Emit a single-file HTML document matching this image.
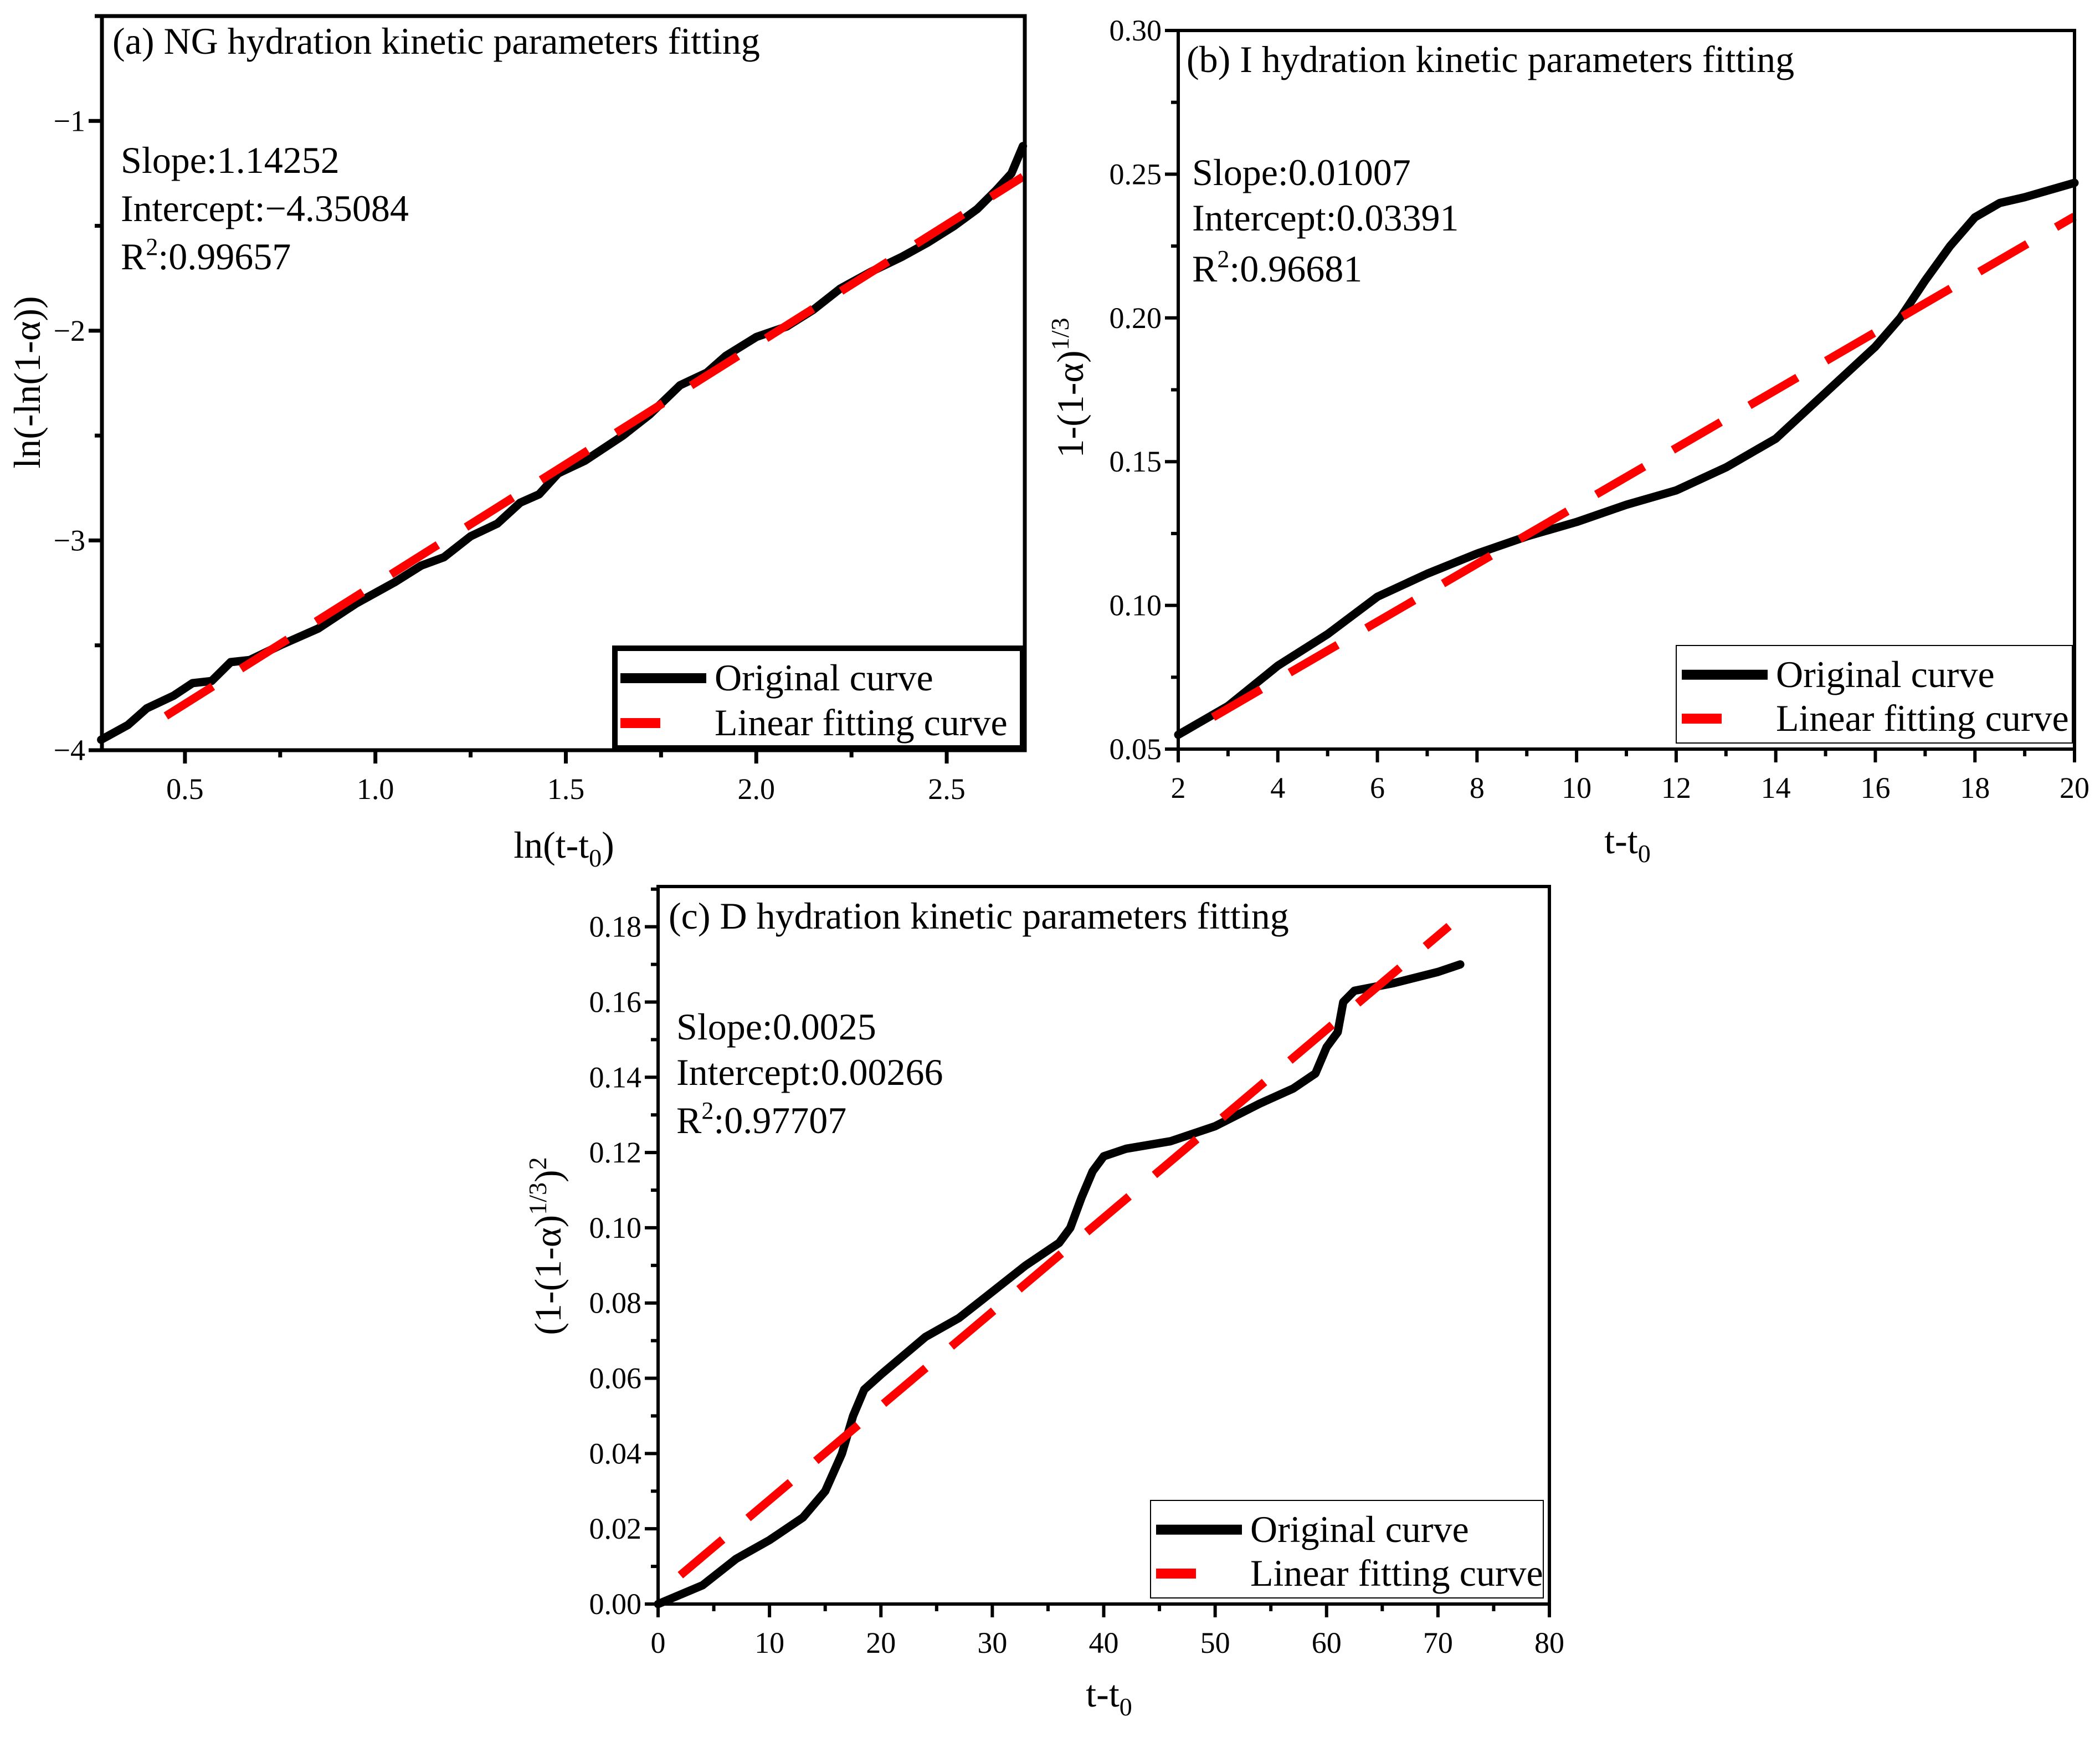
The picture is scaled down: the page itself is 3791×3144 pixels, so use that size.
<!DOCTYPE html>
<html><head><meta charset="utf-8"><style>
html,body{margin:0;padding:0;background:#fff}
svg text{font-family:"Liberation Serif",serif;fill:#000}
</style></head><body>
<svg id="fig" xmlns="http://www.w3.org/2000/svg" width="3791" height="3139" viewBox="0 0 3791 3139"></svg>
<script>
// Panel (a)
const aX = [0.28,0.35,0.40,0.47,0.52,0.57,0.62,0.67,0.75,0.85,0.95,1.05,1.12,1.18,1.25,1.32,1.38,1.43,1.48,1.55,1.65,1.72,1.80,1.87,1.92,2.00,2.08,2.15,2.22,2.30,2.38,2.45,2.52,2.58,2.63,2.67,2.70];
const aY = [-3.95,-3.88,-3.80,-3.74,-3.68,-3.67,-3.58,-3.57,-3.50,-3.42,-3.30,-3.20,-3.12,-3.08,-2.98,-2.92,-2.82,-2.78,-2.68,-2.62,-2.50,-2.40,-2.26,-2.20,-2.12,-2.03,-1.98,-1.90,-1.80,-1.72,-1.65,-1.58,-1.50,-1.42,-1.33,-1.25,-1.12];
const aFit = [1.14252,-4.35084];
const aFitRange = [0.45,2.70];
const aXTicks = [0.5,1.0,1.5,2.0,2.5];
const aXTickLabels = ["0.5","1.0","1.5","2.0","2.5"];
const aYTicks = [-4,-3,-2,-1];
const aYTickLabels = ["\u22124","\u22123","\u22122","\u22121"];
// Panel (b)
const bX = [2,3,4,5,6,7,8,9,10,11,12,13,14,15,16,16.5,17,17.5,18,18.5,19,20];
const bY = [0.055,0.065,0.079,0.090,0.103,0.111,0.118,0.124,0.129,0.135,0.140,0.148,0.158,0.174,0.190,0.200,0.213,0.225,0.235,0.240,0.242,0.247];
const bFit = [0.01007,0.03391];
const bFitRange = [2.7,20];
const bXTicks = [2,4,6,8,10,12,14,16,18,20];
const bXTickLabels = ["2","4","6","8","10","12","14","16","18","20"];
const bYTicks = [0.05,0.10,0.15,0.20,0.25,0.30];
const bYTickLabels = ["0.05","0.10","0.15","0.20","0.25","0.30"];
// Panel (c)
const cX = [0,4,7,10,13,15,16.5,17.5,18.5,20,22,24,27,30,33,36,37,38,39,40,42,46,50,54,57,59,60,61,61.5,62.5,66,70,72];
const cY = [0,0.005,0.012,0.017,0.023,0.030,0.040,0.050,0.057,0.061,0.066,0.071,0.076,0.083,0.090,0.096,0.100,0.108,0.115,0.119,0.121,0.123,0.127,0.133,0.137,0.141,0.148,0.152,0.160,0.163,0.165,0.168,0.170];
const cFit = [0.0025,0.00266];
const cFitRange = [2,71];
const cXTicks = [0,10,20,30,40,50,60,70,80];
const cXTickLabels = ["0","10","20","30","40","50","60","70","80"];
const cYTicks = [0,0.02,0.04,0.06,0.08,0.10,0.12,0.14,0.16,0.18];
const cYTickLabels = ["0.00","0.02","0.04","0.06","0.08","0.10","0.12","0.14","0.16","0.18"];

const NS="http://www.w3.org/2000/svg";
const svg=document.getElementById('fig');
function mk(tag,attrs,parent){const e=document.createElementNS(NS,tag);for(const k in attrs)e.setAttribute(k,attrs[k]);(parent||svg).appendChild(e);return e;}

function panel(o){
  const g=mk('g',{});
  
  
  const sx=v=>o.L+(v-o.xd[0])/(o.xd[1]-o.xd[0])*(o.R-o.L);
  const sy=v=>o.B-(v-o.yd[0])/(o.yd[1]-o.yd[0])*(o.B-o.T);
  let d='';
  o.xs.forEach((x,i)=>{d+=(i?'L':'M')+sx(x).toFixed(1)+' '+sy(o.ys[i]).toFixed(1);});
  const p=mk('path',{d:d,fill:'none',stroke:'#000','stroke-width':15,'stroke-linejoin':'round','stroke-linecap':'round'},g);
  
  
  const f=mk('line',{x1:sx(o.fr[0]),y1:sy(o.fit[0]*o.fr[0]+o.fit[1]),x2:sx(o.fr[1]),y2:sy(o.fit[0]*o.fr[1]+o.fit[1]),stroke:'#f00','stroke-width':15,'stroke-dasharray':'100 60'},g);
  
  
  const fr=mk('rect',{x:o.L,y:o.T,width:o.R-o.L,height:o.B-o.T,fill:'none',stroke:'#000','stroke-width':o.sw},g);
  
  
  o.xt.forEach((v,i)=>{
    const x=sx(v);
    mk('line',{x1:x,y1:o.B,x2:x,y2:o.B+24,stroke:'#000','stroke-width':o.sw},g);
    const t=mk('text',{x:x,y:o.B+88,'font-size':54,'text-anchor':'middle'},g);
    t.textContent=o.xtl[i];
    
    
    if(i<o.xt.length-1){const m=sx((v+o.xt[i+1])/2);mk('line',{x1:m,y1:o.B,x2:m,y2:o.B+13,stroke:'#000','stroke-width':o.sw},g);}
  });
  o.yt.forEach((v,i)=>{
    const y=sy(v);
    mk('line',{x1:o.L,y1:y,x2:o.L-24,y2:y,stroke:'#000','stroke-width':o.sw},g);
    const t=mk('text',{x:o.L-30,y:y+18,'font-size':54,'text-anchor':'end'},g);
    t.textContent=o.ytl[i];
    
    
    const mv=(i<o.yt.length-1)?(v+o.yt[i+1])/2:v+(v-o.yt[i-1])/2;
    if(mv<=o.yd[1]){const m=sy(mv);mk('line',{x1:o.L,y1:m,x2:o.L-13,y2:m,stroke:'#000','stroke-width':o.sw},g);}
  });
  const lg=mk('g',{},g);
  
  
  const l=o.leg;
  mk('rect',{x:l[0],y:l[1],width:l[2]-l[0],height:l[3]-l[1],fill:'#fff',stroke:'#000','stroke-width':o.legsw},lg);
  const h=l[3]-l[1];
  mk('line',{x1:l[0]+10,y1:l[1]+h*0.3,x2:l[0]+165,y2:l[1]+h*0.3,stroke:'#000','stroke-width':18},lg);
  mk('line',{x1:l[0]+10,y1:l[1]+h*0.75,x2:l[0]+82,y2:l[1]+h*0.75,stroke:'#f00','stroke-width':18},lg);
  const t1=mk('text',{x:l[0]+180,y:l[1]+h*0.3+22,'font-size':68},lg);t1.textContent='Original curve';
  
  
  const t2=mk('text',{x:l[0]+180,y:l[1]+h*0.75+22,'font-size':68},lg);t2.textContent='Linear fitting curve';
  
  
  return g;
}
panel({id:'a',L:184,R:1850,T:29,B:1354,xd:[0.282,2.705],yd:[-4,-0.5],xs:aX,ys:aY,fit:aFit,fr:aFitRange,xt:aXTicks,xtl:aXTickLabels,yt:aYTicks,ytl:aYTickLabels,sw:7,leg:[1110,1170,1846,1350],legsw:10});
panel({id:'b',L:2127,R:3745,T:55,B:1352,xd:[2,20],yd:[0.05,0.30],xs:bX,ys:bY,fit:bFit,fr:bFitRange,xt:bXTicks,xtl:bXTickLabels,yt:bYTicks,ytl:bYTickLabels,sw:6,leg:[3026,1165,3741,1341],legsw:2});
panel({id:'c',L:1188,R:2797,T:1600,B:2895,xd:[0,80],yd:[0,0.1907],xs:cX,ys:cY,fit:cFit,fr:cFitRange,xt:cXTicks,xtl:cXTickLabels,yt:cYTicks,ytl:cYTickLabels,sw:6,leg:[2077,2708,2786,2884],legsw:2});
</script>
<svg xmlns="http://www.w3.org/2000/svg" width="3791" height="3139" style="position:absolute;left:0;top:0">
<g font-family="Liberation Serif, serif" font-size="68">
<text x="203" y="97">(a) NG hydration kinetic parameters fitting</text>
<text x="218" y="312">Slope:1.14252</text>
<text x="218" y="399">Intercept:−4.35084</text>
<text x="218" y="486">R<tspan dy="-26" font-size="44">2</tspan><tspan dy="26">:0.99657</tspan></text>
<text x="2142" y="130">(b) I hydration kinetic parameters fitting</text>
<text x="2152" y="334">Slope:0.01007</text>
<text x="2152" y="416">Intercept:0.03391</text>
<text x="2152" y="508">R<tspan dy="-26" font-size="44">2</tspan><tspan dy="26">:0.96681</tspan></text>
<text x="1207" y="1676">(c) D hydration kinetic parameters fitting</text>
<text x="1221" y="1876">Slope:0.0025</text>
<text x="1221" y="1958">Intercept:0.00266</text>
<text x="1221" y="2045">R<tspan dy="-26" font-size="44">2</tspan><tspan dy="26">:0.97707</tspan></text>
<text x="1018" y="1548" text-anchor="middle">ln(t-t<tspan dy="16" font-size="46">0</tspan><tspan dy="-16">)</tspan></text>
<text transform="translate(72,690) rotate(-90)" text-anchor="middle">ln(-ln(1-α))</text>
<text x="2938" y="1540" text-anchor="middle">t-t<tspan dy="16" font-size="46">0</tspan></text>
<text transform="translate(1955,700) rotate(-90)" text-anchor="middle">1-(1-α)<tspan dy="-26" font-size="46">1/3</tspan></text>
<text x="2002" y="3080" text-anchor="middle">t-t<tspan dy="16" font-size="46">0</tspan></text>
<text transform="translate(1012,2249) rotate(-90)" text-anchor="middle">(1-(1-α)<tspan dy="-26" font-size="46">1/3</tspan><tspan dy="26">)</tspan><tspan dy="-26" font-size="46">2</tspan></text>
</g>
</svg>
</body></html>
